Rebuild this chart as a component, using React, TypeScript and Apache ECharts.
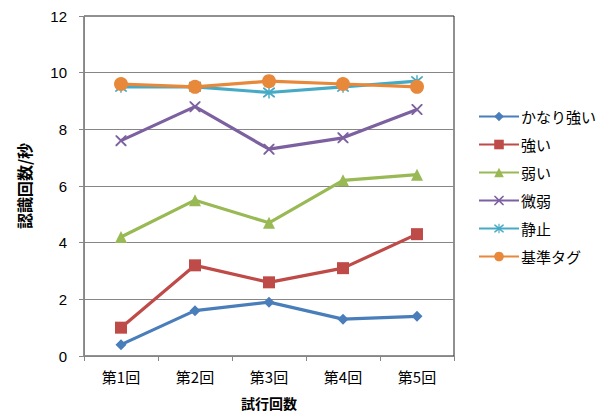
import React, { useEffect, useRef } from "react";
import * as echarts from "echarts";

const categories = ["第1回", "第2回", "第3回", "第4回", "第5回"];
const seriesNames = ["かなり強い", "強い", "弱い", "微弱", "静止", "基準タグ"];
const veryStrong = [0.4, 1.6, 1.9, 1.3, 1.4];
const strong = [1.0, 3.2, 2.6, 3.1, 4.3];
const weak = [4.2, 5.5, 4.7, 6.2, 6.4];
const veryWeak = [7.6, 8.8, 7.3, 7.7, 8.7];
const stationary = [9.5, 9.5, 9.3, 9.5, 9.7];
const reference = [9.6, 9.5, 9.7, 9.6, 9.5];
const yTicks = [0, 2, 4, 6, 8, 10, 12];

const colors = ["#4A7EBB", "#BE4B48", "#98B954", "#7D60A0", "#46AAC5", "#E8883A"];

const xPath =
  "path://M0,0 L1.2,0 L5,3.8 L8.8,0 L10,0 L10,1.2 L6.2,5 L10,8.8 L10,10 L8.8,10 L5,6.2 L1.2,10 L0,10 L0,8.8 L3.8,5 L0,1.2 Z";
const starPath =
  "path://M0,0 L1.2,0 L5,3.8 L8.8,0 L10,0 L10,1.2 L6.2,5 L10,8.8 L10,10 L8.8,10 L5,6.2 L1.2,10 L0,10 L0,8.8 L3.8,5 L0,1.2 Z M4.4,-1 L5.6,-1 L5.6,11 L4.4,11 Z";

const FONT = "'Noto Sans CJK JP', 'Liberation Sans', sans-serif";

export default function App() {
  const ref = useRef<HTMLDivElement>(null);
  useEffect(() => {
    document.body.style.margin = "0";
    if (!ref.current) return;
    const chart = echarts.init(ref.current, null, { renderer: "svg" });
    const data = [veryStrong, strong, weak, veryWeak, stationary, reference];
    const symbols = ["diamond", "rect", "triangle", xPath, starPath, "circle"];
    const sizes = [11, 12, 12, 11, 12, 14];
    chart.setOption({
      animation: false,
      backgroundColor: "#fff",
      textStyle: { fontFamily: FONT },
      grid: {
        left: 84,
        top: 16,
        right: 153,
        bottom: 59,
        show: true,
        borderColor: "#222",
        borderWidth: 1,
        containLabel: false,
        outerBoundsMode: "none",
      },
      legend: {
        orient: "vertical",
        left: 473,
        top: 104,
        itemWidth: 40,
        itemHeight: 12,
        itemGap: 13,
        textStyle: { fontSize: 15, color: "#000", fontFamily: FONT, padding: [0, 0, 0, -3] },
        data: seriesNames,
      },
      xAxis: {
        type: "category",
        data: categories,
        boundaryGap: true,
        name: "試行回数",
        nameLocation: "middle",
        nameGap: 40,
        nameTextStyle: { fontSize: 14, fontWeight: "bold", color: "#000", fontFamily: FONT },
        axisLine: { lineStyle: { color: "#868686" } },
        axisTick: { show: true, length: 5, inside: false, lineStyle: { color: "#868686" } },
        axisLabel: { fontSize: 15, color: "#000", margin: 13, fontFamily: FONT },
      },
      yAxis: {
        type: "value",
        min: 0,
        max: 12,
        interval: 2,
        name: "認識回数/秒",
        nameLocation: "middle",
        nameGap: 52,
        nameTextStyle: { fontSize: 16, fontWeight: "bold", color: "#000", fontFamily: FONT },
        axisLine: { show: true, lineStyle: { color: "#868686" } },
        axisTick: { show: true, length: 5, lineStyle: { color: "#868686" } },
        axisLabel: {
          fontSize: 15,
          color: "#000",
          margin: 17,
          fontFamily: "'Liberation Sans', sans-serif",
          formatter: (v: number) => (yTicks.includes(v) ? String(v) : ""),
        },
        splitLine: { show: true, showMaxLine: false, lineStyle: { color: "#868686", width: 1 } },
      },
      series: seriesNames.map((name, i) => ({
        name,
        type: "line",
        data: data[i],
        symbol: symbols[i],
        symbolSize: sizes[i],
        showSymbol: true,
        lineStyle: { color: colors[i], width: 3.2 },
        itemStyle: { color: colors[i] },
      })),
    });
    return () => chart.dispose();
  }, []);
  return <div ref={ref} style={{ width: 607, height: 415 }} />;
}
